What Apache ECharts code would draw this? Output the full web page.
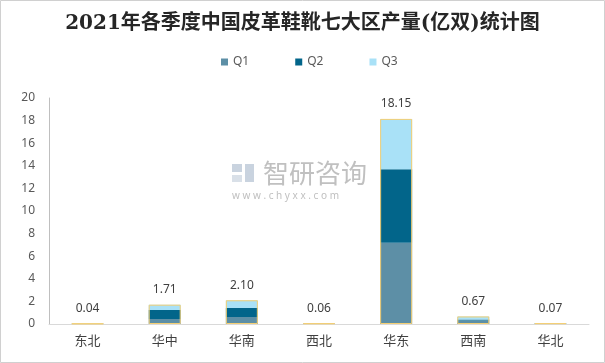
<!DOCTYPE html>
<html>
<head>
<meta charset="utf-8">
<script src="https://cdn.jsdelivr.net/npm/echarts@6/dist/echarts.min.js"></script>
<style>html,body{margin:0;padding:0;background:#fff}#c{width:605px;height:363px}</style>
</head>
<body>
<div id="c"></div>
<script>
const categories = ['东北', '华中', '华南', '西北', '华东', '西南', '华北'];
const q1 = [0.02, 0.45, 0.62, 0.02, 7.2, 0.30, 0.03];
const q2 = [0.01, 0.80, 0.80, 0.02, 6.5, 0.10, 0.02];
const q3 = [0.01, 0.46, 0.68, 0.02, 4.45, 0.27, 0.02];
const totals = [0.04, 1.71, 2.10, 0.06, 18.15, 0.67, 0.07];
const yTicks = { min: 0, max: 20, interval: 2 };

const chart = echarts.init(document.getElementById('c'));
const fam = "'Noto Sans', 'Noto Sans CJK SC', sans-serif";
chart.setOption({
  animation: false,
  backgroundColor: '#fff',
  title: {
    text: '2021年各季度中国皮革鞋靴七大区产量(亿双)统计图',
    left: 'center', top: 9,
    textStyle: { fontSize: 20, fontWeight: 'bold', color: '#262626', fontFamily: "'DejaVu Serif', 'Noto Sans CJK SC', serif" }
  },
  legend: {
    data: ['Q1', 'Q2', 'Q3'],
    top: 51, left: 216,
    itemWidth: 7, itemHeight: 7, itemGap: 46,
    icon: 'rect',
    textStyle: { fontSize: 12, color: '#595959', fontFamily: fam }
  },
  grid: { left: 49, right: 16, top: 98, bottom: 39, containLabel: false },
  xAxis: {
    type: 'category', data: categories,
    axisLine: { lineStyle: { color: '#d9d9d9' } },
    axisTick: { show: false },
    axisLabel: { fontSize: 13, color: '#404040', margin: 11, fontFamily: fam }
  },
  yAxis: {
    type: 'value', min: yTicks.min, max: yTicks.max, interval: yTicks.interval,
    axisLine: { show: true, lineStyle: { color: '#bfbfbf' } },
    axisTick: { show: false },
    splitLine: { show: false },
    axisLabel: { fontSize: 12, color: '#595959', margin: 14, fontFamily: fam }
  },
  graphic: [
    { type: 'rect', shape: { x: 0.5, y: 0.5, width: 604, height: 362 }, style: { fill: 'none', stroke: '#d0d0d0', lineWidth: 1 }, z: 100 },
    { type: 'rect', shape: { x: 232, y: 164, width: 10, height: 8 }, style: { fill: '#c9d3df' }, z: 0 },
    { type: 'rect', shape: { x: 245, y: 164, width: 9, height: 18 }, style: { fill: '#c9d3df' }, z: 0 },
    { type: 'rect', shape: { x: 232, y: 175, width: 10, height: 7 }, style: { fill: '#d9e0e8' }, z: 0 },
    { type: 'text', left: 263, top: 160, style: { text: '智研咨询', fontSize: 26, fill: '#c0c0c0', fontFamily: "'Noto Sans CJK SC', sans-serif" }, z: 0 },
    { type: 'text', left: 232, top: 191, style: { text: 'w w w . c h y x x . c o m', fontSize: 10, fill: '#c0c0c0', fontFamily: fam }, z: 0 }
  ],
  series: [
    { name: 'Q1', type: 'bar', stack: 's', data: q1, barWidth: 32, itemStyle: { color: '#5d8fa6' } },
    { name: 'Q2', type: 'bar', stack: 's', data: q2, barWidth: 32, itemStyle: { color: '#02658a' } },
    { name: 'Q3', type: 'bar', stack: 's', data: q3, barWidth: 32, itemStyle: { color: '#a9e1f7' } },
    {
      name: 'total', type: 'bar', data: totals, barWidth: 32, barGap: '-100%', z: 5,
      itemStyle: { color: 'rgba(0,0,0,0)', borderColor: '#f4cf74', borderWidth: 1 },
      label: { show: true, position: 'top', distance: 9, fontSize: 12, color: '#404040', fontFamily: fam,
        formatter: p => totals[p.dataIndex].toFixed(2) },
      tooltip: { show: false }
    }
  ]
});
</script>
</body>
</html>
